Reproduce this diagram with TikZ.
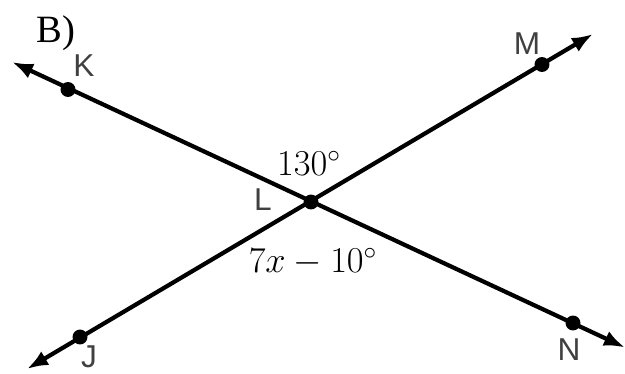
\documentclass[tikz,border=0pt]{standalone}
\usepackage{fontspec}
\setmainfont{Liberation Serif}
\setsansfont{Liberation Sans}
\usetikzlibrary{arrows.meta}

\begin{document}
\begin{tikzpicture}[x=0.02cm,y=-0.02cm,
    line/.style={line width=2.4pt,{Latex[length=12pt,width=9pt]}-{Latex[length=12pt,width=9pt]}},
    dot/.style={circle,fill,inner sep=0pt,minimum size=8.5pt},
    pt/.style={font=\sffamily\fontsize{18}{20}\selectfont,text=black!75},
    ang/.style={font=\fontsize{22}{24}\selectfont}]
\useasboundingbox (0,0) rectangle (625,373);
\node[font=\fontsize{22}{24}\selectfont] (title) at (56,33) {B)};
% the two lines
\coordinate (kend) at (12,62);
\coordinate (nend) at (625,347.5);
\coordinate (jend) at (27,369);
\coordinate (mend) at (593,34);
\draw[line] (kend) -- (nend);
\draw[line] (jend) -- (mend);
% points
\node[dot] (k) at (68,89.5) {};
\node[dot] (n) at (573,323) {};
\node[dot] (j) at (80,337) {};
\node[dot] (m) at (542,64.5) {};
\node[dot] (l) at (311,202) {};
\node[pt] (klab) at (84,66) {K};
\node[pt] (mlab) at (527,44) {M};
\node[pt] (llab) at (263,200) {L};
\node[pt] (nlab) at (569,350) {N};
\node[pt,inner sep=1pt] (jlab) at (89,357) {J};
% angles
\node[ang] (top) at (309,163) {$130^\circ$};
\node[ang] (bottom) at (313,262) {$7x-10^\circ$};
\end{tikzpicture}
\end{document}
